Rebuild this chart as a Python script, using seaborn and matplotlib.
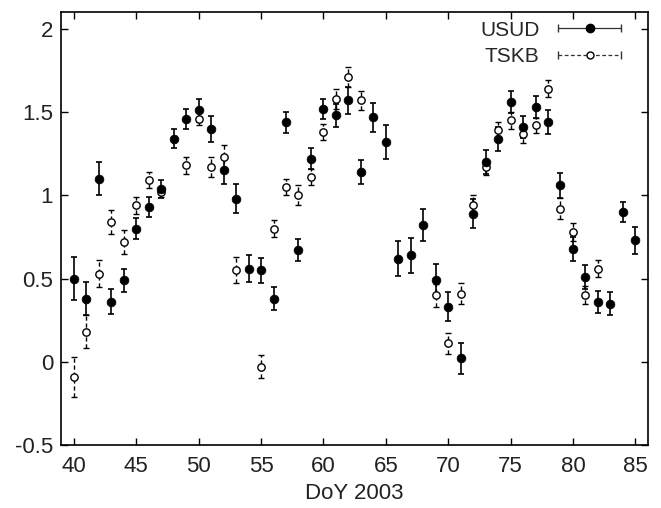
import matplotlib
matplotlib.use("Agg")
import matplotlib.pyplot as plt
import seaborn as sns
import pandas as pd
from matplotlib.lines import Line2D
from matplotlib.legend_handler import HandlerLine2D, HandlerTuple

# USUD (filled circles)
usud_day = list(range(40, 86))
usud_val = [0.50, 0.38, 1.10, 0.36, 0.49, 0.80, 0.93, 1.04, 1.34, 1.46,
            1.51, 1.40, 1.15, 0.98, 0.56, 0.55, 0.38, 1.44, 0.67, 1.22,
            1.52, 1.48, 1.57, 1.14, 1.47, 1.32, 0.62, 0.64, 0.82, 0.49,
            0.33, 0.02, 0.89, 1.20, 1.34, 1.56, 1.41, 1.53, 1.44, 1.06,
            0.68, 0.51, 0.36, 0.35, 0.90, 0.73]
usud_err = [0.13, 0.10, 0.10, 0.075, 0.07, 0.063, 0.06, 0.054, 0.058, 0.06,
            0.07, 0.078, 0.085, 0.086, 0.08, 0.076, 0.068, 0.063, 0.065, 0.063,
            0.06, 0.067, 0.079, 0.072, 0.087, 0.104, 0.103, 0.104, 0.095, 0.10,
            0.088, 0.094, 0.085, 0.072, 0.073, 0.068, 0.065, 0.067, 0.07, 0.077,
            0.072, 0.072, 0.068, 0.072, 0.06, 0.08]

# TSKB (open circles)
tskb_day = [40, 41, 42, 43, 44, 45, 46, 47, 49, 50, 51, 52, 53,
            55, 56, 57, 58, 59, 60, 61, 62, 63,
            69, 70, 71, 72, 73, 74, 75, 76, 77, 78, 79, 80, 81, 82]
tskb_val = [-0.09, 0.18, 0.53, 0.84, 0.72, 0.94, 1.09, 1.02, 1.18, 1.46, 1.17, 1.23, 0.55,
            -0.03, 0.80, 1.05, 1.00, 1.11, 1.38, 1.58, 1.71, 1.57,
            0.40, 0.11, 0.41, 0.94, 1.17, 1.39, 1.45, 1.37, 1.42, 1.64, 0.92, 0.78, 0.40, 0.56]
tskb_err = [0.12, 0.10, 0.08, 0.07, 0.07, 0.05, 0.048, 0.03, 0.05, 0.04, 0.06, 0.075, 0.078,
            0.07, 0.053, 0.046, 0.06, 0.05, 0.047, 0.06, 0.062, 0.056,
            0.07, 0.065, 0.063, 0.06, 0.05, 0.05, 0.05, 0.055, 0.046, 0.05, 0.062, 0.054, 0.055, 0.053]

usud = pd.DataFrame({"day": usud_day, "val": usud_val, "err": usud_err})
tskb = pd.DataFrame({"day": tskb_day, "val": tskb_val, "err": tskb_err})

sns.set_style("ticks")
plt.rcParams["font.family"] = ["Liberation Sans", "DejaVu Sans"]
plt.rcParams["xtick.direction"] = "in"
plt.rcParams["ytick.direction"] = "in"

fig = plt.figure(figsize=(6.61, 5.08), dpi=100)
ax = fig.add_axes([0.093, 0.124, 0.887, 0.852])

# TSKB error bars dashed
eb = ax.errorbar(tskb.day, tskb.val, yerr=tskb.err, fmt="none", ecolor="black",
                 elinewidth=1.0, capsize=2.5, capthick=1.0)
eb[2][0].set_linestyle((0, (3, 2)))
sns.scatterplot(data=tskb, x="day", y="val", ax=ax, marker="o", s=28,
                facecolor="white", edgecolor="black", linewidth=1.0, zorder=3)

ax.errorbar(usud.day, usud.val, yerr=usud.err, fmt="none", ecolor="black",
            elinewidth=1.2, capsize=2.5, capthick=1.2)
sns.scatterplot(data=usud, x="day", y="val", ax=ax, marker="o", s=40,
                color="black", edgecolor="black", linewidth=0.5, zorder=4)

ax.set_xlim(39, 86)
ax.set_ylim(-0.5, 2.1)
ax.set_xticks([40, 45, 50, 55, 60, 65, 70, 75, 80, 85])
ax.set_yticks([-0.5, 0, 0.5, 1, 1.5, 2])
ax.set_yticklabels(["-0.5", "0", "0.5", "1", "1.5", "2"])
ax.tick_params(axis="both", labelsize=16, top=True, right=True, length=5,
               width=1, colors="black", labelcolor="#222222")
ax.tick_params(axis="x", pad=8)
ax.tick_params(axis="y", pad=6)
for s in ax.spines.values():
    s.set_linewidth(1.2)
    s.set_color("black")
ax.set_xlabel("DoY 2003", fontsize=16, color="#222222", labelpad=4)
ax.set_ylabel("")

# gnuplot style legend: horizontal line with caps and marker in middle
u_line = Line2D([], [], color="#333333", lw=0.9, marker="|", markersize=6, mew=1.0)
u_mark = Line2D([], [], color="black", ls="none", marker="o", markersize=6)
t_line = Line2D([], [], color="#333333", lw=0.9, ls=(0, (3, 2)), marker="|",
                markersize=6, mew=1.0)
t_mark = Line2D([], [], color="black", ls="none", marker="o", markersize=5,
                markerfacecolor="white")
hm = {u_line: HandlerLine2D(numpoints=2), t_line: HandlerLine2D(numpoints=2),
      u_mark: HandlerLine2D(numpoints=1), t_mark: HandlerLine2D(numpoints=1),
      tuple: HandlerTuple(ndivide=1)}
ax.legend([(u_line, u_mark), (t_line, t_mark)], ["USUD", "TSKB"],
          handler_map=hm, loc="upper right", frameon=False, markerfirst=False,
          fontsize=15, handlelength=3.6, labelspacing=0.35, handletextpad=0.6,
          borderaxespad=0.0, borderpad=0.2, bbox_to_anchor=(0.972, 0.99))

fig.savefig("out.png", dpi=100)
